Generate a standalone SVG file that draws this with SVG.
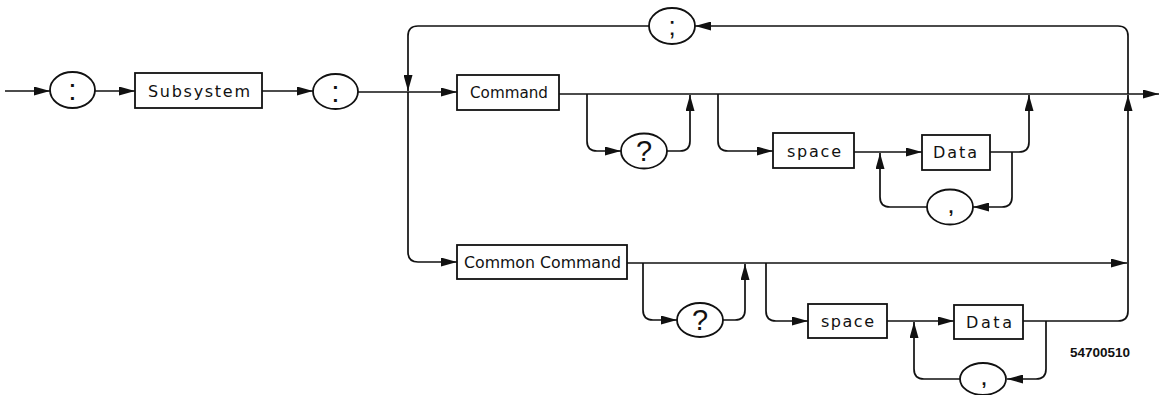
<svg xmlns="http://www.w3.org/2000/svg" width="1160" height="395" viewBox="0 0 1160 395">
<style>
.b{fill:#fff;stroke:#111;stroke-width:1.8}
.t{font-family:"DejaVu Sans",sans-serif;font-size:16px;fill:#111}
.s{font-family:"Liberation Sans",Arial,sans-serif;fill:#111;text-anchor:middle}
.c path{fill:none;stroke:#111;stroke-width:1.7;marker-end:url(#a)}
</style>
<defs>
<marker id="a" markerWidth="16" markerHeight="9" refX="16" refY="4.5" orient="auto" markerUnits="userSpaceOnUse"><path d="M0,0 L16,4.5 L0,9 Z" fill="#111"/></marker>
</defs>
<rect width="1160" height="395" fill="#fff"/>
<g class="c" id="connectors">
<path d="M5,91 H50"/>
<path d="M95,91 H135"/>
<path d="M262,91 H313"/>
<path d="M358,92 H457"/>
<path d="M559,94 H1159"/>
<path d="M1128,94 V36 Q1128,26 1118,26 H695"/>
<path d="M649,26 H418 Q408,26 408,36 V91"/>
<path d="M408,92 V252 Q408,262 418,262 H457"/>
<path d="M587,94 V141 Q587,151 597,151 H621"/>
<path d="M667,151 H680 Q690,151 690,141 V95"/>
<path d="M718,94 V141 Q718,151 728,151 H773"/>
<path d="M854,152 H922"/>
<path d="M990,152 H1019 Q1029,152 1029,142 V95"/>
<path d="M1012,152 V197 Q1012,207 1002,207 H973"/>
<path d="M927,207 H890 Q880,207 880,197 V153"/>
<path d="M627,263 H1127"/>
<path d="M643,263 V310 Q643,320 653,320 H677"/>
<path d="M723,320 H735 Q745,320 745,310 V264"/>
<path d="M766,263 V311 Q766,321 776,321 H808"/>
<path d="M887,321 H954"/>
<path d="M1023,321 H1118 Q1128,321 1128,311 V95"/>
<path d="M1046,321 V369 Q1046,379 1036,379 H1007"/>
<path d="M960,379 H924 Q914,379 914,369 V322"/>
</g>
<g id="colon1"><ellipse class="b" cx="72.5" cy="90" rx="22.5" ry="18"/><text class="s" x="72.5" y="100" font-size="30">:</text></g>
<g id="subsystem"><rect class="b" x="135" y="73" width="127" height="35"/><text class="t" x="148" y="97" textLength="102" lengthAdjust="spacing">Subsystem</text></g>
<g id="colon2"><ellipse class="b" cx="335.5" cy="91.5" rx="22.5" ry="17.5"/><text class="s" x="335.5" y="102" font-size="30">:</text></g>
<g id="semicolon"><ellipse class="b" cx="672" cy="26" rx="23" ry="18"/><text class="s" x="672" y="35" font-size="26">;</text></g>
<g id="command"><rect class="b" x="457" y="75" width="102" height="35"/><text class="t" x="470" y="98" textLength="78" lengthAdjust="spacingAndGlyphs">Command</text></g>
<g id="query1"><ellipse class="b" cx="644" cy="151" rx="23" ry="17.5"/><text class="s" x="644" y="161" font-size="29">?</text></g>
<g id="space1"><rect class="b" x="773" y="133" width="81" height="35"/><text class="t" x="787" y="157" textLength="54" lengthAdjust="spacing">space</text></g>
<g id="data1"><rect class="b" x="922" y="135" width="68" height="35"/><text class="t" x="933" y="158" textLength="44" lengthAdjust="spacing">Data</text></g>
<g id="comma1"><ellipse class="b" cx="950" cy="207" rx="23" ry="17.5"/><text class="s" x="951" y="213" font-size="18" font-weight="bold">,</text></g>
<g id="common-command"><rect class="b" x="457" y="245" width="170" height="34"/><text class="t" x="464" y="268" textLength="157" lengthAdjust="spacingAndGlyphs">Common Command</text></g>
<g id="query2"><ellipse class="b" cx="700" cy="320" rx="23" ry="17"/><text class="s" x="700" y="330" font-size="29">?</text></g>
<g id="space2"><rect class="b" x="808" y="304" width="79" height="34"/><text class="t" x="821" y="327" textLength="53" lengthAdjust="spacing">space</text></g>
<g id="data2"><rect class="b" x="954" y="305" width="69" height="34"/><text class="t" x="966" y="328" textLength="46" lengthAdjust="spacing">Data</text></g>
<g id="comma2"><ellipse class="b" cx="983" cy="379" rx="23" ry="16"/><text class="s" x="984" y="385" font-size="18" font-weight="bold">,</text></g>
<g id="figure-id"><text x="1070" y="357" font-family="Liberation Sans, Arial, sans-serif" font-size="12" font-weight="bold" fill="#111" textLength="60" lengthAdjust="spacingAndGlyphs">54700510</text></g>
</svg>
